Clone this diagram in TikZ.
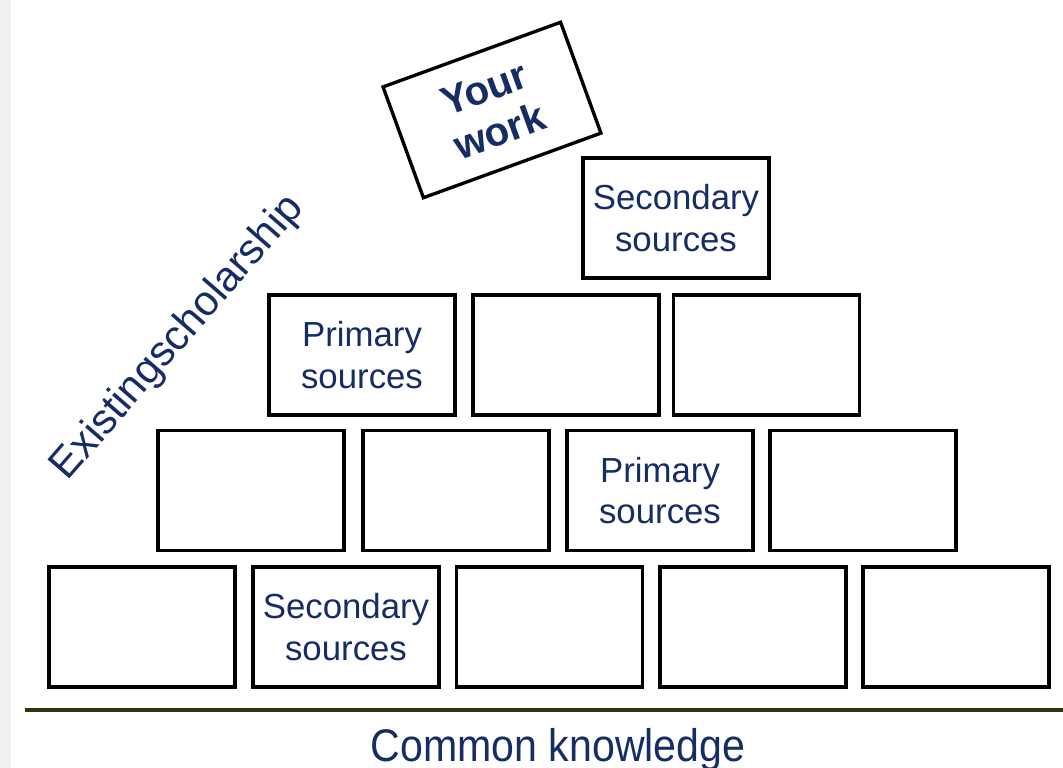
\documentclass[tikz,border=0pt]{standalone}
\usepackage{fontspec}
\setmainfont{Liberation Sans}
\definecolor{navy}{RGB}{22,44,100}
\definecolor{olive}{RGB}{51,51,10}
\definecolor{stripgray}{RGB}{240,240,240}

\begin{document}
\begin{tikzpicture}[x=0.02cm, y=-0.02cm,
  brick/.style = {draw, line width=1.9pt, minimum width=3.72cm, minimum height=2.4cm, inner sep=0pt, align=center, text=navy, font=\fontsize{19.8}{23.8}\selectfont},
  topbrick/.style = {brick, minimum width=3.78cm, minimum height=2.36cm, font=\fontsize{23}{26}\selectfont\bfseries, rotate=20}]

% Frame
\useasboundingbox (0,0) rectangle (1063,768);
\fill[stripgray] (0,0) rectangle (11,768);

% Bottom row
\node[brick] (b1) at (142,627) {};
\node[brick] (b2) at (346,627) {Secondary\\sources};
\node[brick] (b3) at (549.5,627) {};
\node[brick] (b4) at (753,627) {};
\node[brick] (b5) at (956,627) {};

% Second row
\node[brick] (c1) at (251,490.5) {};
\node[brick] (c2) at (456,490.5) {};
\node[brick] (c3) at (660,490.5) {Primary\\sources};
\node[brick] (c4) at (863,490.5) {};

% Third row
\node[brick] (d1) at (362,355) {Primary\\sources};
\node[brick] (d2) at (566,355) {};
\node[brick] (d3) at (766.5,355) {};

% Top
\node[brick] (e1) at (676,218) {Secondary\\sources};
\node[topbrick] (work) at (492,110) {Your\\work};

% Labels
\node[rotate=49, text=navy, font=\fontsize{24}{28}\selectfont] (scholarship) at (178,338) {Existingscholarship};
\coordinate (groundL) at (25,710);
\coordinate (groundR) at (1063,710);
\draw[olive, line width=1.9pt] (groundL) -- (groundR);
\node[anchor=base, xscale=0.9, text=navy, font=\fontsize{26}{30}\selectfont] (common) at (558,761) {Common knowledge};

\end{tikzpicture}
\end{document}
